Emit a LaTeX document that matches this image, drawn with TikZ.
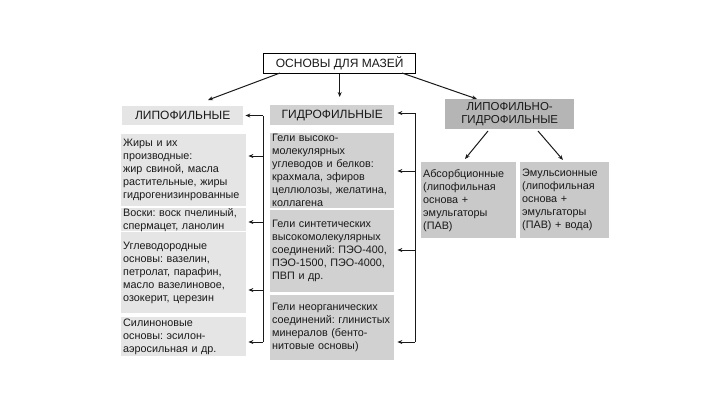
\documentclass[tikz,border=0pt]{standalone}
\usepackage{fontspec}
\setmainfont{Liberation Sans}
\frenchspacing
\usetikzlibrary{arrows.meta}
\definecolor{cL}{gray}{0.90}
\definecolor{cH}{gray}{0.82}
\definecolor{cR}{gray}{0.79}
\definecolor{cLG}{gray}{0.71}
\tikzset{
  bx/.style n args={3}{anchor=north west, inner xsep=2pt, inner ysep=0pt, align=left,
    minimum width=#1pt, minimum height=#2pt, text width=#3pt,
    font=\fontsize{10.8}{13}\selectfont, text=black!90},
  hd/.style={anchor=north west, inner sep=0pt, align=center, font=\fontsize{12}{13.5}\selectfont, text=black!90},
  arr/.style={draw=black!90, line width=1pt, -{Stealth[length=5pt,width=4pt]}},
  ln/.style={draw=black!90, line width=1pt}
}
\begin{document}
\begin{tikzpicture}[x=1pt,y=-1pt]
\useasboundingbox (0,0) rectangle (720,413);
% title
\node[hd, draw=black, line width=1.4pt, fill=white, minimum width=152pt, minimum height=20pt] (title) at (263,53) {ОСНОВЫ ДЛЯ МАЗЕЙ};
% headers
\node[hd, fill=cL, minimum width=121pt, minimum height=19pt] (lip) at (122,106) {ЛИПОФИЛЬНЫЕ};
\node[hd, fill=cH, minimum width=124pt, minimum height=20pt] (hyd) at (270,105) {ГИДРОФИЛЬНЫЕ};
\node[hd, fill=cLG, minimum width=129pt, minimum height=30pt, font=\fontsize{11.5}{13}\selectfont] (lg) at (445,99) {ЛИПОФИЛЬНО-\\ГИДРОФИЛЬНЫЕ};
% left column
\node[bx={125}{72}{121}, fill=cL] (L1) at (121,134) {Жиры и их\\производные:\\жир свиной, масла\\растительные, жиры\\гидрогенизинрованные};
\node[bx={125}{21}{121}, fill=cL] (L2) at (121,208) {Воски: воск пчелиный,\\спермацет, ланолин};
\node[bx={125}{81}{121}, fill=cL] (L3) at (121,232) {Углеводородные\\основы: вазелин,\\петролат, парафин,\\масло вазелиновое,\\озокерит, церезин};
\node[bx={125}{39}{121}, fill=cL] (L4) at (121,317) {Силиноновые\\основы: эсилон-\\аэросильная и др.};
% middle column
\node[bx={124}{75}{120}, fill=cH] (H1) at (270,133) {Гели высоко-\\молекулярных\\углеводов и белков:\\крахмала, эфиров\\целлюлозы, желатина,\\коллагена};
\node[bx={124}{82}{120}, fill=cH] (H2) at (270,210) {Гели синтетических\\высокомолекулярных\\соединений: ПЭО-400,\\ПЭО-1500, ПЭО-4000,\\ПВП и др.};
\node[bx={124}{65}{120}, fill=cH] (H3) at (270,295) {Гели неорганических\\соединений: глинистых\\минералов (бенто-\\нитовые основы)};
% right column
\node[bx={95}{76}{91}, fill=cR] (R1) at (421,162) {Абсорбционные\\(липофильная\\основа +\\эмульгаторы\\(ПАВ)};
\node[bx={89}{76}{85}, fill=cR] (R2) at (520,162) {Эмульсионные\\(липофильная\\основа +\\ эмульгаторы\\(ПАВ) + вода)};
% arrows from title
\coordinate (t1) at (280,73);
\coordinate (t2) at (402,73);
\draw[arr] (t1) -- (208,100);
\draw[arr] (title.south) -- (title.south |- 0,97);
\draw[arr] (t2) -- (477,99);
% arrows from lg
\coordinate (g1) at (488,131);
\coordinate (g2) at (538,131);
\draw[arr] (g1) -- (465,159);
\draw[arr] (g2) -- (563,160);
% left bracket
\coordinate (lt) at (263,115.5);
\coordinate (lb) at (263,342);
\coordinate (la1) at (263,156);
\coordinate (la2) at (263,222);
\coordinate (la3) at (263,290);
\draw[ln] (lb) -- (lt);
\draw[arr] (lt) -- ([xshift=2pt]lip.east |- lt);
\draw[arr] (la1) -- ([xshift=2pt]L1.east |- la1);
\draw[arr] (la2) -- ([xshift=2pt]L2.east |- la2);
\draw[arr] (la3) -- ([xshift=2pt]L3.east |- la3);
\draw[arr] (lb) -- ([xshift=2pt]L4.east |- lb);
% middle bracket
\coordinate (mt) at (415,113);
\coordinate (mb) at (415,342);
\coordinate (ma1) at (415,171);
\coordinate (ma2) at (415,250);
\draw[ln] (mb) -- (mt);
\draw[arr] (mt) -- ([xshift=3pt]hyd.east |- mt);
\draw[arr] (ma1) -- ([xshift=3pt]H1.east |- ma1);
\draw[arr] (ma2) -- ([xshift=3pt]H2.east |- ma2);
\draw[arr] (mb) -- ([xshift=3pt]H3.east |- mb);
\end{tikzpicture}
\end{document}
